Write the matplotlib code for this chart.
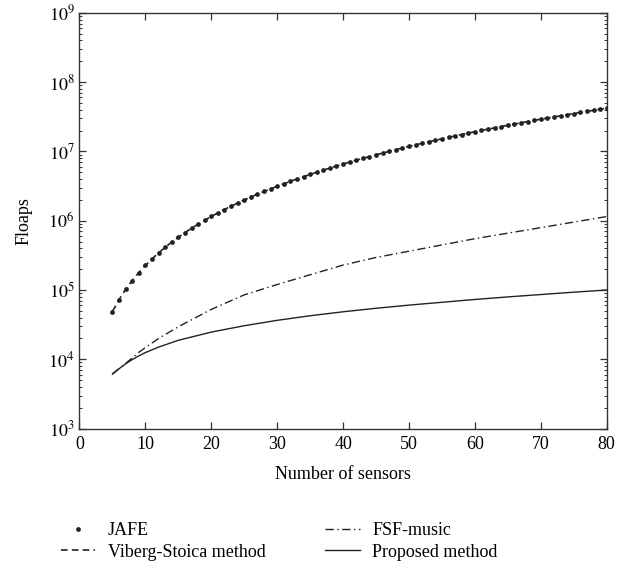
import matplotlib
matplotlib.use("Agg")
import matplotlib.pyplot as plt
from matplotlib.ticker import LogLocator, FixedLocator, NullFormatter

plt.rcParams['font.family'] = ['Liberation Serif', 'DejaVu Serif']
plt.rcParams['mathtext.fontset'] = 'stix'

# ---- data ----
sensors_dense = list(range(5, 81))
jafe_floaps = [
    4.88e4, 7.25e4, 1.02e5, 1.37e5, 1.78e5, 2.26e5, 2.81e5, 3.43e5, 4.13e5, 4.91e5,
    5.78e5, 6.73e5, 7.78e5, 8.92e5, 1.016e6, 1.15e6, 1.295e6, 1.451e6, 1.618e6, 1.798e6,
    1.989e6, 2.193e6, 2.410e6, 2.640e6, 2.883e6, 3.141e6, 3.413e6, 3.700e6, 4.002e6, 4.319e6,
    4.652e6, 5.001e6, 5.367e6, 5.750e6, 6.150e6, 6.568e6, 7.004e6, 7.458e6, 7.931e6, 8.424e6,
    8.935e6, 9.467e6, 1.0019e7, 1.0591e7, 1.1185e7, 1.18e7, 1.2437e7, 1.3095e7, 1.3777e7, 1.4481e7,
    1.5208e7, 1.5959e7, 1.6734e7, 1.7533e7, 1.8357e7, 1.9206e7, 2.0080e7, 2.0981e7, 2.1907e7, 2.2860e7,
    2.3840e7, 2.4847e7, 2.5881e7, 2.6944e7, 2.8035e7, 2.9155e7, 3.0304e7, 3.1482e7, 3.2691e7, 3.3929e7,
    3.5198e7, 3.6499e7, 3.7830e7, 3.9193e7, 4.0588e7, 4.2016e7,
]
viberg_floaps = list(jafe_floaps)  # overlaps JAFE in the reference

sensors_coarse = [5, 6, 7, 8, 9, 10, 12, 15, 20, 25, 30, 35, 40, 45, 50, 55, 60, 65, 70, 75, 80]
fsf_floaps = [6.17e3, 7.33e3, 8.71e3, 1.047e4, 1.259e4, 1.479e4, 1.995e4, 2.95e4, 5.25e4, 8.51e4,
              1.20e5, 1.66e5, 2.29e5, 2.95e5, 3.63e5, 4.47e5, 5.50e5, 6.61e5, 7.94e5, 9.55e5, 1.148e6]
proposed_floaps = [6.1e3, 7.3e3, 8.6e3, 9.9e3, 1.12e4, 1.25e4, 1.5e4, 1.88e4, 2.47e4, 3.05e4,
                   3.65e4, 4.25e4, 4.85e4, 5.45e4, 6.05e4, 6.65e4, 7.3e4, 7.95e4, 8.6e4, 9.3e4, 1.0e5]

x_ticks = [0, 10, 20, 30, 40, 50, 60, 70, 80]
y_decades = [1e3, 1e4, 1e5, 1e6, 1e7, 1e8, 1e9]

fig = plt.figure(figsize=(6.18, 5.67), dpi=100)
ax = fig.add_axes([0.1286, 0.2441, 0.8531, 0.7333])

lw = 1.0
ax.plot(sensors_dense, jafe_floaps, linestyle='none', marker='o', markersize=2.4,
        color='#222222', label='JAFE', zorder=3)
ax.plot(sensors_dense, viberg_floaps, linestyle=(0, (4, 2.5)), color='#222222', lw=1.2,
        label='Viberg-Stoica method')
ax.plot(sensors_coarse, fsf_floaps, linestyle=(0, (6, 2.5, 1, 2.5)), color='#222222', lw=lw,
        label='FSF-music')
ax.plot(sensors_coarse, proposed_floaps, linestyle='-', color='#222222', lw=lw,
        label='Proposed method')

ax.set_yscale('log')
ax.set_xlim(0, 80)
ax.set_ylim(1e3, 1e9)
ax.xaxis.set_major_locator(FixedLocator(x_ticks))
ax.yaxis.set_major_locator(FixedLocator(y_decades))
ax.yaxis.set_minor_locator(LogLocator(base=10, subs=range(2, 10), numticks=20))
ax.yaxis.set_minor_formatter(NullFormatter())
ax.set_yticklabels([r'$10^{%d}$' % e for e in range(3, 10)])

ax.tick_params(which='both', direction='in', top=True, right=True, labelsize=13,
               color='#333333')
ax.tick_params(which='major', length=5, width=0.9)
ax.tick_params(which='minor', length=2.5, width=0.7)
ax.tick_params(axis='x', pad=5)
for s in ax.spines.values():
    s.set_linewidth(1.0)
    s.set_color('#333333')

ax.set_xlabel('Number of sensors', fontsize=13, labelpad=10)
ax.set_ylabel('Floaps', fontsize=13, labelpad=11)

fig.legend(loc='upper center', bbox_to_anchor=(0.452, 0.108), ncol=2, frameon=False,
           fontsize=13, handlelength=1.9, handletextpad=0.7, columnspacing=3.3,
           labelspacing=0.25, markerscale=1.0)

fig.savefig('out.png', dpi=100)
